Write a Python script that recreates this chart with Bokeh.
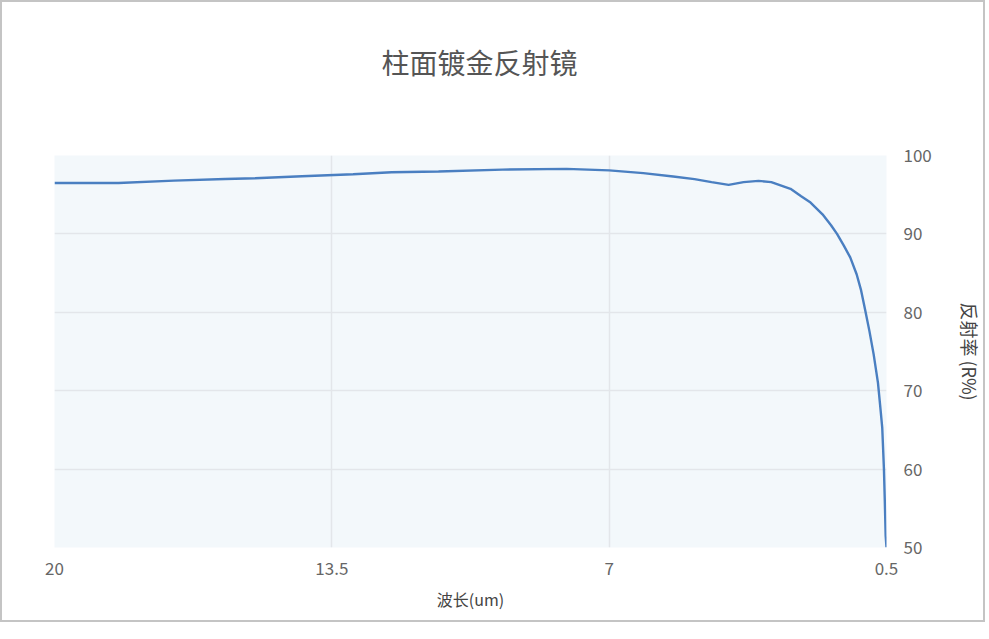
from bokeh.plotting import figure
from bokeh.models import Range1d, FixedTicker, Title
from bokeh.embed import file_html
from bokeh.resources import INLINE

# data: wavelength (um) and reflectance (%)
wavelength = [20, 18.5, 17.2, 16, 15.3, 14.2, 13, 12.1, 11, 9.5, 8, 7, 6.2, 5.5, 5, 4.6, 4.2,
              3.85, 3.5, 3.2, 2.75, 2.5, 2.28, 2.0, 1.8, 1.66, 1.5, 1.35, 1.2, 1.1, 1.0, 0.9,
              0.8, 0.7, 0.65, 0.6, 0.56, 0.54, 0.52, 0.5]
reflectance = [96.5, 96.5, 96.8, 97.0, 97.1, 97.35, 97.6, 97.87, 97.95, 98.2, 98.3, 98.1, 97.75,
               97.32, 96.98, 96.6, 96.26, 96.6, 96.77, 96.6, 95.75, 94.8, 94.0, 92.5, 91.1, 90.0,
               88.5, 87.0, 84.85, 82.9, 80.3, 77.6, 74.6, 71.0, 68.2, 65.3, 60.0, 56.0, 51.5, 50.0]
x_ticks = [0.5, 7, 13.5, 20]
x_tick_labels = ["0.5", "7", "13.5", "20"]
y_ticks = [50, 60, 70, 80, 90, 100]

title_text = "柱面镀金反射镜"
x_label = "波长(um)"
y_label = "反射率 (R%)"

FONT = "Noto Sans CJK SC"
TXT = "#666666"

p = figure(width=985, height=622, output_backend="svg", toolbar_location=None,
           title=None,
           x_range=Range1d(20, 0.5), y_range=Range1d(50, 100),
           y_axis_location="right",
           min_border_left=52, min_border_right=101, min_border_top=153, min_border_bottom=77,
           styles={"border": "2px solid #c4c4c4"})

# spacer between the frame and the title (closest to the frame), then the title
p.add_layout(Title(text=" ", text_font_size="1px", standoff=71), "above")
p.add_layout(Title(text=title_text, align="left", offset=327, text_font=FONT,
                   text_font_size="28px", text_font_style="normal",
                   text_color="#555555", standoff=0), "above")

p.background_fill_color = "#f3f8fb"
p.border_fill_color = "white"
p.outline_line_color = None

p.line(wavelength, reflectance, line_color="#4a7fc1", line_width=2.4)

xa = p.xaxis[0]
xa.ticker = FixedTicker(ticks=x_ticks)
xa.major_label_overrides = {t: s for t, s in zip(x_ticks, x_tick_labels)}
xa.axis_label = x_label
ya = p.yaxis[0]
ya.ticker = FixedTicker(ticks=y_ticks)
ya.axis_label = y_label

for ax in (xa, ya):
    ax.axis_line_color = None
    ax.major_tick_line_color = None
    ax.minor_tick_line_color = None
    ax.major_label_text_font = FONT
    ax.major_label_text_font_size = "17px"
    ax.major_label_text_color = TXT
    ax.axis_label_text_font = FONT
    ax.axis_label_text_font_size = "16px"
    ax.axis_label_text_font_style = "normal"
    ax.axis_label_text_color = "#444444"

ya.axis_label_text_font_size = "18px"

xa.major_label_standoff = 8
xa.axis_label_standoff = 9
ya.major_label_standoff = 11
ya.axis_label_standoff = 22

p.xgrid.ticker = FixedTicker(ticks=x_ticks)
p.ygrid.ticker = FixedTicker(ticks=y_ticks)
p.xgrid.grid_line_color = "#e3e6ea"
p.ygrid.grid_line_color = "#e3e6ea"
p.xgrid.grid_line_width = 1.5
p.ygrid.grid_line_width = 1.5

open("out.html", "w").write(file_html(p, INLINE))
